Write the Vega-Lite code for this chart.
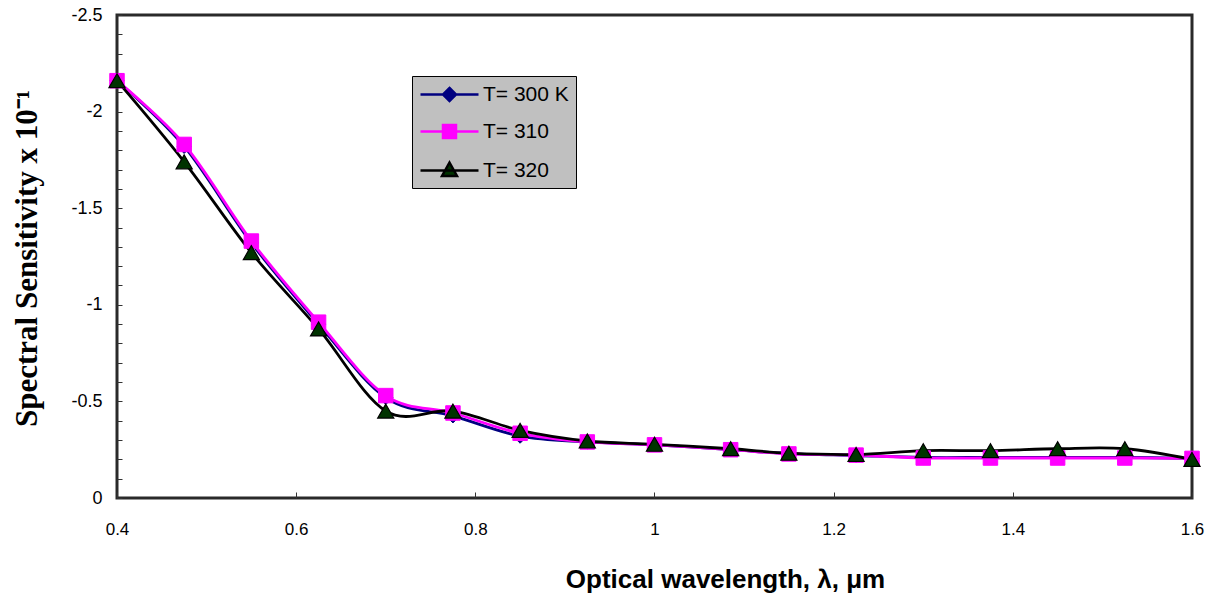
{
  "$schema": "https://vega.github.io/schema/vega-lite/v6.json",
  "width": 1075,
  "height": 483,
  "autosize": {"type": "none"},
  "padding": {"left": 117, "top": 15, "right": 23, "bottom": 96},
  "background": "white",
  "config": {
    "view": {"stroke": "#2a2a2a", "strokeWidth": 3},
    "font": "Liberation Sans"
  },
  "data": {
    "values": [
      {"x": 0.4, "y": -2.16, "series": "T= 300 K"},
      {"x": 0.475, "y": -1.82, "series": "T= 300 K"},
      {"x": 0.55, "y": -1.32, "series": "T= 300 K"},
      {"x": 0.625, "y": -0.9, "series": "T= 300 K"},
      {"x": 0.7, "y": -0.52, "series": "T= 300 K"},
      {"x": 0.775, "y": -0.425, "series": "T= 300 K"},
      {"x": 0.85, "y": -0.32, "series": "T= 300 K"},
      {"x": 0.925, "y": -0.29, "series": "T= 300 K"},
      {"x": 1.0, "y": -0.275, "series": "T= 300 K"},
      {"x": 1.085, "y": -0.25, "series": "T= 300 K"},
      {"x": 1.15, "y": -0.23, "series": "T= 300 K"},
      {"x": 1.225, "y": -0.22, "series": "T= 300 K"},
      {"x": 1.3, "y": -0.21, "series": "T= 300 K"},
      {"x": 1.375, "y": -0.21, "series": "T= 300 K"},
      {"x": 1.45, "y": -0.21, "series": "T= 300 K"},
      {"x": 1.525, "y": -0.21, "series": "T= 300 K"},
      {"x": 1.6, "y": -0.205, "series": "T= 300 K"},
      {"x": 0.4, "y": -2.16, "series": "T= 310"},
      {"x": 0.475, "y": -1.83, "series": "T= 310"},
      {"x": 0.55, "y": -1.33, "series": "T= 310"},
      {"x": 0.625, "y": -0.91, "series": "T= 310"},
      {"x": 0.7, "y": -0.53, "series": "T= 310"},
      {"x": 0.775, "y": -0.44, "series": "T= 310"},
      {"x": 0.85, "y": -0.335, "series": "T= 310"},
      {"x": 0.925, "y": -0.29, "series": "T= 310"},
      {"x": 1.0, "y": -0.275, "series": "T= 310"},
      {"x": 1.085, "y": -0.25, "series": "T= 310"},
      {"x": 1.15, "y": -0.228, "series": "T= 310"},
      {"x": 1.225, "y": -0.222, "series": "T= 310"},
      {"x": 1.3, "y": -0.207, "series": "T= 310"},
      {"x": 1.375, "y": -0.207, "series": "T= 310"},
      {"x": 1.45, "y": -0.207, "series": "T= 310"},
      {"x": 1.525, "y": -0.207, "series": "T= 310"},
      {"x": 1.6, "y": -0.205, "series": "T= 310"},
      {"x": 0.4, "y": -2.16, "series": "T= 320"},
      {"x": 0.475, "y": -1.74, "series": "T= 320"},
      {"x": 0.55, "y": -1.27, "series": "T= 320"},
      {"x": 0.625, "y": -0.875, "series": "T= 320"},
      {"x": 0.7, "y": -0.45, "series": "T= 320"},
      {"x": 0.775, "y": -0.45, "series": "T= 320"},
      {"x": 0.85, "y": -0.35, "series": "T= 320"},
      {"x": 0.925, "y": -0.295, "series": "T= 320"},
      {"x": 1.0, "y": -0.278, "series": "T= 320"},
      {"x": 1.085, "y": -0.255, "series": "T= 320"},
      {"x": 1.15, "y": -0.232, "series": "T= 320"},
      {"x": 1.225, "y": -0.225, "series": "T= 320"},
      {"x": 1.3, "y": -0.245, "series": "T= 320"},
      {"x": 1.375, "y": -0.245, "series": "T= 320"},
      {"x": 1.45, "y": -0.255, "series": "T= 320"},
      {"x": 1.525, "y": -0.255, "series": "T= 320"},
      {"x": 1.6, "y": -0.2, "series": "T= 320"}
    ]
  },
  "encoding": {
    "x": {
      "field": "x",
      "type": "quantitative",
      "scale": {"domain": [0.4, 1.6], "nice": false, "zero": false},
      "axis": {
        "title": "Optical wavelength, λ, μm",
        "titleFont": "Liberation Sans",
        "titleFontSize": 26,
        "titleFontWeight": "bold",
        "titleColor": "black",
        "titleX": 608,
        "titleY": 89,
        "titleAlign": "center",
        "titleBaseline": "alphabetic",
        "values": [0.4, 0.6, 0.8, 1, 1.2, 1.4, 1.6],
        "labelExpr": "'' + datum.value",
        "labelFont": "Liberation Sans",
        "labelFontSize": 17,
        "labelColor": "black",
        "labelPadding": 29,
        "labelFlush": false,
        "tickSize": -6,
        "tickColor": "#333",
        "tickWidth": 1,
        "domain": false,
        "grid": false
      }
    },
    "y": {
      "field": "y",
      "type": "quantitative",
      "scale": {"domain": [-2.5, 0], "reverse": true, "nice": false, "zero": false},
      "axis": {
        "title": "Spectral Sensitivity x 10⁻¹",
        "titleFont": "Liberation Serif",
        "titleFontSize": 31,
        "titleFontWeight": "bold",
        "titleColor": "black",
        "titleAngle": -90,
        "titleX": -90,
        "titleY": 243,
        "titleAlign": "center",
        "titleBaseline": "middle",
        "values": [0, -0.1, -0.2, -0.3, -0.4, -0.5, -0.6, -0.7, -0.8, -0.9, -1, -1.1, -1.2, -1.3, -1.4, -1.5, -1.6, -1.7, -1.8, -1.9, -2, -2.1, -2.2, -2.3, -2.4, -2.5],
        "labelExpr": "abs(datum.value * 2 - round(datum.value * 2)) < 0.001 ? '' + datum.value : ''",
        "labelFont": "Liberation Sans",
        "labelFontSize": 18,
        "labelColor": "black",
        "labelPadding": 20,
        "labelFlush": false,
        "labelOverlap": false,
        "tickSize": -5,
        "tickColor": "#333",
        "tickWidth": 1,
        "domain": false,
        "grid": false
      }
    }
  },
  "layer": [
    {
      "mark": {"type": "line", "interpolate": "cardinal", "tension": 0, "strokeWidth": 2.8},
      "encoding": {
        "stroke": {
          "field": "series",
          "type": "nominal",
          "scale": {"domain": ["T= 300 K", "T= 310", "T= 320"], "range": ["#000080", "#FF00FF", "#000000"]},
          "legend": {
            "title": null,
            "orient": "none",
            "legendX": 295,
            "legendY": 61,
            "fillColor": "#C0C0C0",
            "strokeColor": "#000000",
            "padding": 7,
            "symbolSize": 400,
            "symbolOffset": 19,
            "labelFont": "Liberation Sans",
            "labelFontSize": 21,
            "labelColor": "#000000",
            "labelOffset": 22,
            "rowPadding": 14,
            "encode": {
              "symbols": {
                "update": {
                  "shape": {"signal": "datum.value === 'T= 300 K' ? 'M-2.9,0L2.9,0M0,-0.65L0.65,0L0,0.65L-0.65,0Z' : datum.value === 'T= 310' ? 'M-2.9,0L2.9,0M-0.65,-0.65L0.65,-0.65L0.65,0.65L-0.65,0.65Z' : 'M-2.9,0L2.9,0M0,-0.8L0.75,0.55L-0.75,0.55Z'"},
                  "fill": {"signal": "datum.value === 'T= 300 K' ? '#000080' : datum.value === 'T= 310' ? '#FF00FF' : '#003300'"},
                  "fillOpacity": {"value": 1},
                  "stroke": {"signal": "datum.value === 'T= 300 K' ? '#000080' : datum.value === 'T= 310' ? '#FF00FF' : '#000000'"},
                  "strokeWidth": {"value": 2.5},
                  "opacity": {"value": 1}
                }
              }
            }
          }
        }
      }
    },
    {
      "transform": [{"filter": "datum.series === 'T= 300 K'"}],
      "mark": {"type": "point", "shape": "diamond", "filled": true, "size": 200, "fill": "#000080", "stroke": "#000080", "strokeWidth": 1, "opacity": 1}
    },
    {
      "transform": [{"filter": "datum.series === 'T= 310'"}],
      "mark": {"type": "point", "shape": "square", "filled": true, "size": 210, "fill": "#FF00FF", "stroke": "#FF00FF", "strokeWidth": 1, "opacity": 1}
    },
    {
      "transform": [{"filter": "datum.series === 'T= 320'"}],
      "mark": {"type": "point", "shape": "triangle-up", "filled": true, "size": 260, "fill": "#003300", "stroke": "#000000", "strokeWidth": 1.2, "opacity": 1}
    }
  ]
}
